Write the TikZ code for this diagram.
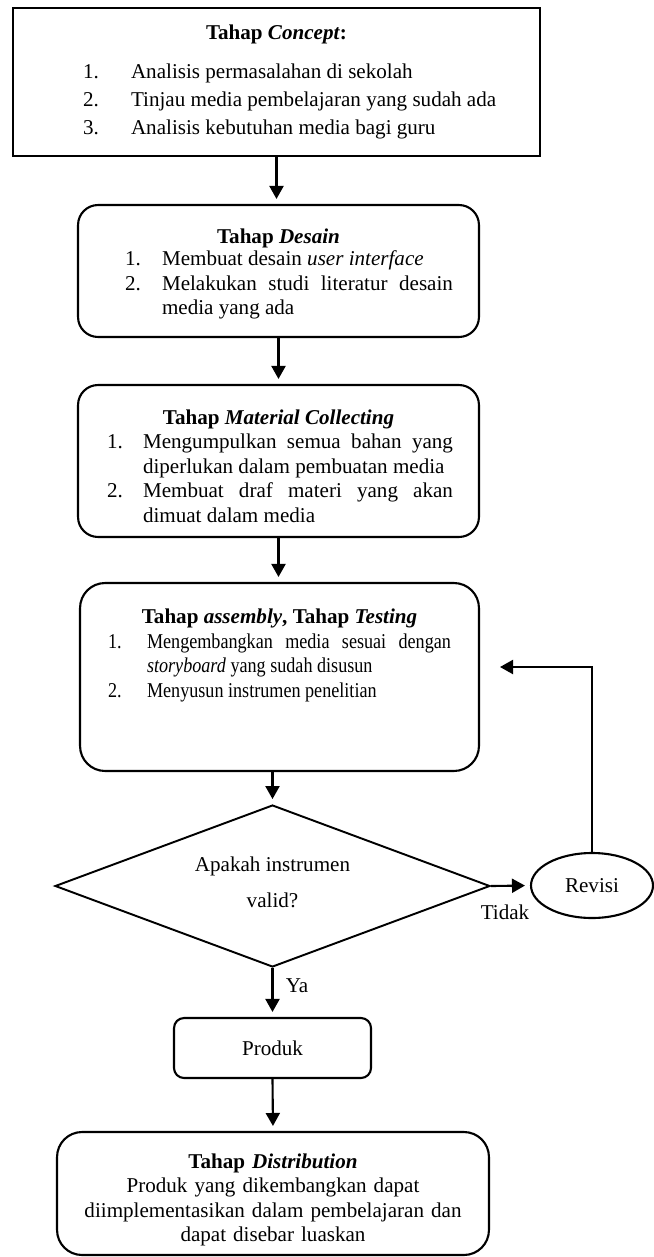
\documentclass[tikz,border=0pt]{standalone}
\usepackage{fontspec}
\setmainfont{Liberation Serif}
\newfontfamily\narrowfont{Liberation Serif}[FakeStretch=0.86]
\usetikzlibrary{shapes.geometric,arrows.meta,positioning}

\newlength{\numwd}
\newcommand{\stepitem}[2]{\par\hangindent=\numwd\hangafter=1\noindent\makebox[\numwd][l]{#1}#2\par}

\begin{document}
\begin{tikzpicture}[x=0.02cm,y=-0.02cm]

\tikzstyle{box} = [draw, line width=1.2pt, inner sep=0pt,
    font=\fontsize{12}{14}\selectfont]
\tikzstyle{tahap} = [box, rounded corners=0.4cm, align=justify]
\tikzstyle{flow} = [-{Triangle[length=0.26cm,width=0.28cm]}, line width=1.2pt,
    shorten >=0.1cm]
\tikzstyle{lbl} = [inner sep=0pt, font=\fontsize{12}{14}\selectfont]

\useasboundingbox (0,0) rectangle (653,1257);

% =========================
% Tahap concept
% =========================
\node[box, line width=1.6pt, align=justify, text width=10.54cm, minimum height=2.96cm] (concept) at (276.5,82)
  {{\centering\bfseries Tahap \textit{Concept}:\par}\vspace{6pt}
   \fontsize{12}{16}\selectfont\leftskip=1.4cm\setlength{\numwd}{0.96cm}
   \stepitem{1.}{Analisis permasalahan di sekolah}
   \stepitem{2.}{Tinjau media pembelajaran yang sudah ada}
   \stepitem{3.}{Analisis kebutuhan media bagi guru}};

% =========================
% Tahap desain
% =========================
\node[tahap, text width=8.02cm, minimum height=2.64cm] (desain) at (278.5,271)
  {{\centering\bfseries\rule{0pt}{12pt}Tahap \textit{Desain}\par}\vspace{-1.7pt}
   \leftskip=0.94cm\rightskip=0.52cm\setlength{\numwd}{0.74cm}
   \stepitem{1.}{Membuat desain \textit{user interface}}
   \stepitem{2.}{Melakukan studi literatur desain media yang ada}};

% =========================
% Tahap material collecting
% =========================
\node[tahap, text width=8.02cm, minimum height=3.04cm] (materi) at (278.5,461)
  {{\centering\bfseries\rule{0pt}{14pt}Tahap \textit{Material Collecting}\par}
   \leftskip=0.58cm\rightskip=0.52cm\setlength{\numwd}{0.72cm}
   \stepitem{1.}{Mengumpulkan semua bahan yang\linebreak diperlukan dalam pembuatan media}
   \stepitem{2.}{Membuat draf materi yang akan dimuat dalam media}};

% =========================
% Tahap assembly / testing
% =========================
\node[tahap, rounded corners=0.5cm, text width=7.98cm, minimum height=3.76cm] (assy) at (279.5,677)
  {{\centering\bfseries\rule{0pt}{11pt}Tahap \textit{assembly}, Tahap \textit{Testing}\par}
   \narrowfont\leftskip=0.56cm\rightskip=0.56cm\setlength{\numwd}{0.78cm}
   \stepitem{1.}{Mengembangkan media sesuai dengan \textit{storyboard} yang sudah disusun}
   \stepitem{2.}{Menyusun instrumen penelitian}
   \vspace{0.55cm}\mbox{}};

% =========================
% validasi, revisi
% =========================
\node[box, diamond, aspect=2.7, line width=1.1pt, minimum width=8.7cm, minimum height=3.24cm,
    align=center] (valid) at (272.5,886) {Apakah instrumen\\[0.22cm]valid?\rule[-4.5pt]{0pt}{1pt}};
\node[box, ellipse, minimum width=2.44cm, minimum height=1.3cm] (revisi) at (592,885.5) {Revisi};
\coordinate (revin) at (495,667);

% =========================
% produk, distribution
% =========================
\node[box, rounded corners=0.2cm, minimum width=3.94cm, minimum height=1.2cm] (produk) at (272.5,1048) {Produk};
\node[tahap, rounded corners=0.5cm, text width=8.64cm, minimum height=2.46cm, align=center] (distribusi) at (273,1193.5)
  {\rule{0pt}{15.6pt}\textbf{Tahap \textit{Distribution}}\\ Produk yang dikembangkan dapat\\
   diimplementasikan dalam pembelajaran dan\\ dapat disebar luaskan};

% labels
\node[lbl] (tidak) at (505,912) {Tidak};
\node[lbl] (ya) at (297,986) {Ya};

% =========================
% arrows
% =========================
\draw[flow] (concept.south) -- (concept.south |- desain.north);
\draw[flow] (desain.south) -- (materi.north);
\draw[flow] (materi.south) -- (materi.south |- assy.north);
\draw[flow] (valid.north |- assy.south) -- (valid.north);
\draw[flow] (valid.east) -- (revisi.west);
\draw[flow] (revisi.north) |- (revin);
\draw[flow] (valid.south) -- (produk.north);
\draw[flow] (produk.south) -- (distribusi.north);

\end{tikzpicture}
\end{document}
